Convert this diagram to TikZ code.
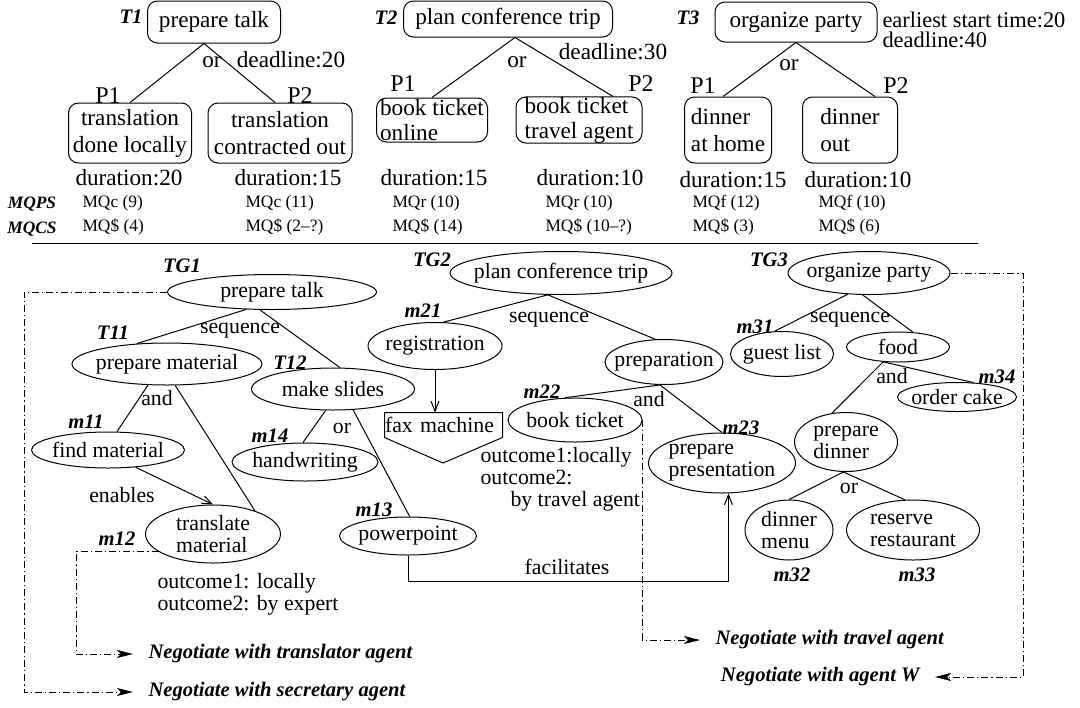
\documentclass[tikz,border=0pt]{standalone}
\usepackage{fontspec}
\setmainfont{Liberation Serif}
\usetikzlibrary{arrows.meta,shapes.geometric}

\tikzset{
  task/.style={draw, rounded corners=5pt, inner sep=0pt, align=center, font=\fontsize{11.6}{13.5}\selectfont},
  goal/.style={draw, ellipse, inner xsep=-20pt, inner ysep=-8pt, align=left, font=\fontsize{10.9}{11}\selectfont},
  tname/.style={inner sep=0pt, font=\fontsize{10.3}{12}\selectfont\bfseries\itshape},
  toptxt/.style={inner sep=0pt, font=\fontsize{11.6}{13}\selectfont},
  bottxt/.style={inner sep=0pt, font=\fontsize{10.9}{11}\selectfont},
  ptxt/.style={inner sep=0pt, font=\fontsize{12}{14}\selectfont},
  mq/.style={anchor=west, inner sep=0pt, font=\fontsize{8.7}{10}\selectfont},
  mqname/.style={inner sep=0pt, font=\fontsize{8.7}{10}\selectfont\bfseries\itshape},
  negtxt/.style={inner sep=0pt, font=\fontsize{10.3}{12}\selectfont\bfseries\itshape},
  negline/.style={dash pattern=on 3.5pt off 1.5pt on 0.6pt off 1.5pt, -{Stealth[length=8pt,width=4pt,inset=2pt]}, shorten >=7.5pt},
  link/.style={-{Straight Barb[length=5pt,width=4pt]}},
}

\begin{document}
\begin{tikzpicture}[x=0.5pt, y=-0.5pt, line width=0.5pt]
    \useasboundingbox (0,0) rectangle (1080,707);
    % Task T1
    \node[task, minimum width=66.5pt, minimum height=21pt] (t1) at (214,22) {prepare talk};
    \node[tname] (t1name) at (131,17) {T1};
    \node[task, minimum width=61.5pt, minimum height=30pt] (p11) at (130,133) {translation\\done locally};
    \node[task, minimum width=72pt, minimum height=30pt] (p12) at (280,133) {translation\\contracted out};
    \coordinate (t1or) at ([xshift=-5pt]t1.south);
    \draw (p11.north) -- (t1or) -- ([xshift=-2.5pt]p12.north);
    \node[toptxt] (t1or lbl) at (212,62) {or};
    \node[toptxt] (t1dl) at (291,60) {deadline:20};
    \node[ptxt] (p11lbl) at (108,96) {P1};
    \node[ptxt] (p12lbl) at (300,96) {P2};
    \node[toptxt] (p11dur) at (129,178) {duration:20};
    \node[toptxt] (p12dur) at (288,178) {duration:15};
    % Task T2
    \node[task, minimum width=104.5pt, minimum height=18pt] (t2) at (508,19) {plan conference trip};
    \node[tname] (t2name) at (386,18) {T2};
    \node[task, align=left, minimum width=55.5pt, minimum height=22pt, font=\fontsize{11.6}{12.5}\selectfont] (p21) at (432,120) {book ticket\\online};
    \node[task, align=left, minimum width=63pt, minimum height=22pt, font=\fontsize{11.6}{12.5}\selectfont] (p22) at (579,120) {book ticket\\travel agent};
    \coordinate (t2or) at ([xshift=3.5pt]t2.south);
    \draw (p21.north) -- (t2or) -- ([xshift=17pt]p22.north);
    \node[toptxt] (t2or lbl) at (517,62) {or};
    \node[toptxt] (t2dl) at (613,52) {deadline:30};
    \node[ptxt] (p21lbl) at (403,84) {P1};
    \node[ptxt] (p22lbl) at (641,84) {P2};
    \node[toptxt] (p21dur) at (434,178) {duration:15};
    \node[toptxt] (p22dur) at (590,178) {duration:10};
    % Task T3
    \node[task, minimum width=81pt, minimum height=20pt] (t3) at (796,22) {organize party};
    \node[tname] (t3name) at (688,18) {T3};
    \node[task, align=left, minimum width=43.5pt, minimum height=33pt] (p31) at (728,130) {dinner\\at home};
    \node[task, align=left, minimum width=47.5pt, minimum height=33pt] (p32) at (850,130) {dinner\\out};
    \draw ([xshift=-2.5pt]p31.north) -- (t3.south) -- ([xshift=12.5pt]p32.north);
    \node[toptxt] (t3or lbl) at (789,65) {or};
    \node[toptxt, anchor=west, align=left, font=\fontsize{11.2}{10}\selectfont] (t3dl) at (882,30) {earliest start time:20\\deadline:40};
    \node[ptxt] (p31lbl) at (703,86) {P1};
    \node[ptxt] (p32lbl) at (896,86) {P2};
    \node[toptxt] (p31dur) at (733,180) {duration:15};
    \node[toptxt] (p32dur) at (858,180) {duration:10};
    % Quality tables
    \node[mqname] (mqps) at (32,204) {MQPS};
    \node[mqname] (mqcs) at (32,229) {MQCS};
    \node[mq] (q11) at (82,203) {MQc (9)};
    \node[mq] (c11) at (82,227) {MQ\$ (4)};
    \node[mq] (q12) at (245,203) {MQc (11)};
    \node[mq] (c12) at (245,227) {MQ\$ (2--?)};
    \node[mq] (q21) at (392,203) {MQr (10)};
    \node[mq] (c21) at (392,227) {MQ\$ (14)};
    \node[mq] (q22) at (545,203) {MQr (10)};
    \node[mq] (c22) at (545,227) {MQ\$ (10--?)};
    \node[mq] (q31) at (692,203) {MQf (12)};
    \node[mq] (c31) at (692,227) {MQ\$ (3)};
    \node[mq] (q32) at (818,203) {MQf (10)};
    \node[mq] (c32) at (818,227) {MQ\$ (6)};
    \draw (32,243) -- (978,243);
    % Goal TG1
    \node[goal, minimum width=104.5pt, minimum height=17.5pt] (tg1) at (272,292) {prepare talk};
    \node[goal, minimum width=95pt, minimum height=21pt] (t11) at (167,364) {prepare material};
    \node[goal, minimum width=81.5pt, minimum height=21pt] (t12) at (333,389) {make slides};
    \node[goal, minimum width=76.5pt, minimum height=18pt] (m11) at (108,450) {find material};
    \node[goal, minimum width=67.5pt, minimum height=29pt] (m12) at (213,534) {translate\\material};
    \node[goal, minimum width=73pt, minimum height=19pt] (m14) at (305,462) {handwriting};
    \node[goal, minimum width=68.5pt, minimum height=19pt] (m13) at (408,536) {powerpoint};
    \node[tname] (tg1name) at (182,266) {TG1};
    \node[tname] (t11name) at (113,333) {T11};
    \node[tname] (t12name) at (290,363) {T12};
    \node[tname] (m11name) at (86,422) {m11};
    \node[tname] (m12name) at (117,539) {m12};
    \node[tname] (m13name) at (374,510) {m13};
    \node[tname] (m14name) at (270,436) {m14};
    \draw (tg1.214) -- (t11.146);
    \draw (tg1.236) -- (t12.72);
    \draw (t11.228) -- (m11.64);
    \draw (t11.291) -- (m12.29);
    \draw (t12.251) -- (m14.96);
    \draw (t12.314) -- (m13.85);
    \draw[link] (m11.328) -- (m12.north);
    \node[bottxt] (tg1seq) at (240,331) {sequence};
    \node[bottxt] (t11and) at (157,398) {and};
    \node[bottxt] (t12or) at (342,428) {or};
    \node[bottxt] (enables) at (122,495) {enables};
    \node[bottxt, anchor=west, align=left] (m12out) at (157,594) {outcome1: locally\\outcome2: by expert};
    % Goal TG2
    \node[goal, minimum width=111pt, minimum height=21.5pt] (tg2) at (561,273) {plan conference trip};
    \node[goal, minimum width=67pt, minimum height=23.5pt] (m21) at (435,346) {registration};
    \node[goal, minimum width=59pt, minimum height=22.5pt] (prep) at (664,362) {preparation};
    \node[goal, minimum width=67pt, minimum height=22pt] (m22) at (575,420) {book ticket};
    \node[goal, minimum width=73.5pt, minimum height=30pt] (m23) at (722,463) {prepare\\presentation};
    \node[tname] (tg2name) at (432,260) {TG2};
    \node[tname] (m21name) at (423,311) {m21};
    \node[tname] (m22name) at (542,392) {m22};
    \node[tname] (m23name) at (741,428) {m23};
    \draw (tg2.239) -- (m21.71);
    \draw (tg2.239) -- (prep.111);
    \draw (prep.260) -- (m22.114);
    \draw (prep.260) -- (m23.north);
    \node[bottxt] (tg2seq) at (549,320) {sequence};
    \node[bottxt] (prepand) at (649,399) {and};
    % fax machine resource
    \node[bottxt, text width=58.5pt, align=left, minimum height=12pt] (fax) at (443.5,425) {fax machine};
    \coordinate (faxtip) at (443,463);
    \draw (fax.north west) -- (fax.north east) -- (fax.south east) -- (faxtip) -- (fax.south west) -- cycle;
    \draw[link] (m21.south) -- (m21.south |- fax.north);
    \node[bottxt, anchor=west, align=left] (m22out) at (480,479) {outcome1:locally\\outcome2:\\\hspace*{15pt}by travel agent};
    \draw[link] (m13.south) -- ++(0,26) -| (m23.-78);
    \node[bottxt] (facil) at (567,567) {facilitates};
    % Goal TG3
    \node[goal, minimum width=81pt, minimum height=21.5pt] (tg3) at (869,273) {organize party};
    \node[goal, minimum width=51.5pt, minimum height=22.5pt] (m31) at (782,354) {guest list};
    \node[goal, minimum width=51.5pt, minimum height=15pt] (food) at (898,347) {food};
    \node[goal, minimum width=59.5pt, minimum height=14.5pt] (m34) at (957,397) {order cake};
    \node[goal, minimum width=51.5pt, minimum height=29.5pt] (pd) at (846,442) {prepare\\dinner};
    \node[goal, minimum width=44pt, minimum height=30pt] (m32) at (789,530) {dinner\\menu};
    \node[goal, minimum width=66.5pt, minimum height=30pt] (m33) at (913,530) {reserve\\restaurant};
    \node[tname] (tg3name) at (769,260) {TG3};
    \node[tname] (m31name) at (755,327) {m31};
    \node[tname] (m34name) at (997,377) {m34};
    \node[tname] (m32name) at (792,575) {m32};
    \node[tname] (m33name) at (917,575) {m33};
    \draw (tg3.225) -- (m31.108);
    \draw (tg3.254) -- (food.45);
    \draw (food.225) -- (m34.41);
    \draw (food.225) -- (pd.116);
    \draw (pd.265) -- (m32.north);
    \draw (pd.265) -- (m33.105);
    \node[bottxt] (tg3seq) at (850,320) {sequence};
    \node[bottxt] (foodand) at (892,376) {and};
    \node[bottxt] (pdor) at (849,488) {or};
    % Negotiations
    \node[negtxt, anchor=west] (ntrans) at (148,654) {Negotiate with translator agent};
    \node[negtxt, anchor=west] (nsecr) at (148,692) {Negotiate with secretary agent};
    \node[negtxt, anchor=west] (ntravel) at (715,640) {Negotiate with travel agent};
    \node[negtxt, anchor=east] (nagentw) at (920,677) {Negotiate with agent W};
    \coordinate (sturn) at (24,692);
    \coordinate (tturn) at (76,654);
    \coordinate (wturn) at (1023,677);
    \draw[negline] (tg1.west) -| (sturn) -- (nsecr.west);
    \draw[negline] (m12.198) -| (tturn) -- (ntrans.west);
    \draw[negline] (m22.east) |- (ntravel.west);
    \draw[negline] (tg3.east) -| (wturn) -- (nagentw.east);
\end{tikzpicture}
\end{document}
